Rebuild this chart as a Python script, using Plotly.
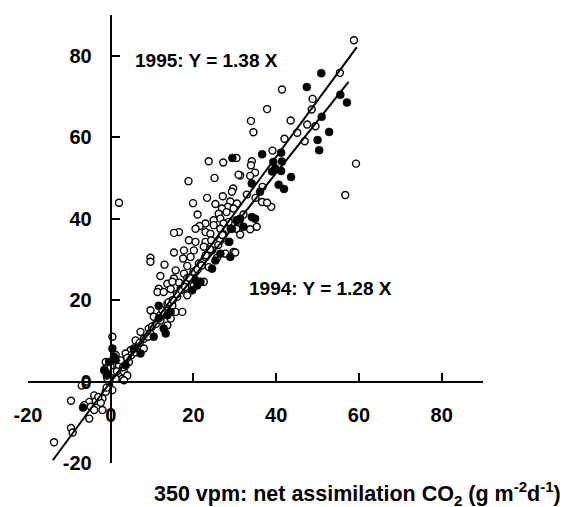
import plotly.graph_objects as go

# 1995 (open circles)
x95 = [58.8,55.4,41.4,48.8,37.8,48.6,33.9,43.5,34.5,47.5,49.5,45.1,42.0,46.9,39.1,59.3,34.1,33.9,34.9,33.7,
       31.3,36.7,56.7,32.9,23.7,27.2,30.4,25.1,30.9,18.8,29.6,29.3,23.3,27.1,19.9,25.3,28.9,30.5,35.0,36.6,
       38.8,37.8,28.3,26.9,21.0,26.1,28.0,29.7,32.1,26.5,24.9,22.9,21.5,20.5,24.9,28.5,27.3,35.3,33.7,30.4,
       31.3,27.3,22.9,16.5,15.3,24.1,26.5,18.9,20.5,22.9,24.3,26.5,28.7,22.5,15.3,17.7,20.1,24.5,27.7,29.7,
       9.6,9.6,13.0,17.5,19.3,22.9,25.7,18.5,21.3,15.7,23.7,12.0,17.7,20.5,15.3,18.5,13.7,16.5,11.6,14.5,
       16.9,20.1,22.5,14.9,18.1,11.3,12.8,16.1,18.5,9.6,13.7,14.9,15.7,17.3,10.4,12.0,14.5,13.7,9.2,9.6,
       7.2,6.0,6.8,8.0,4.8,3.6,4.4,0.4,-1.2,-1.2,0.0,0.8,2.0,2.8,3.2,1.2,-0.8,2.0,2.4,1.2,
       4.0,3.2,-1.0,-7.0,-5.8,-0.4,0.4,-1.2,-4.0,-2.0,-5.2,-9.6,-3.6,-6.4,-4.8,-4.0,-5.2,-9.6,-9.2,-13.7,
       -2.0,-2.4,2.0,30.1,
       5.0,6.0,7.0,8.0,9.0,10.0,11.0,12.0,12.5,13.0,14.0,15.0,16.0,17.0,18.0,19.0,20.0,21.0,22.0,23.0,
       24.0,26.0,27.0,29.0,31.0,3.0,4.0,1.5,-1.0,-3.0]
y95 = [83.8,75.8,71.7,69.4,66.9,66.8,64.0,64.1,61.2,63.1,62.7,61.1,59.6,59.0,56.7,53.5,54.1,53.1,51.3,50.5,
       50.6,47.8,45.8,45.9,54.1,53.8,54.9,50.0,50.8,49.2,47.4,46.6,45.1,45.5,43.8,43.6,44.2,43.7,45.1,44.1,
       42.9,43.9,42.9,42.5,41.0,41.2,41.6,42.5,41.0,40.0,39.6,38.8,38.2,37.5,38.4,39.2,38.8,38.0,37.4,37.5,
       36.1,36.1,36.7,36.7,36.5,36.3,37.5,34.7,34.3,34.3,34.7,34.7,34.3,33.1,31.7,32.2,32.2,32.2,31.4,31.8,
       30.4,29.4,28.7,30.2,30.6,30.6,30.4,28.4,29.0,27.3,28.1,25.9,26.5,26.9,25.3,25.4,24.0,24.3,22.8,22.7,
       22.8,23.6,24.5,24.5,24.0,22.0,22.0,20.8,21.2,17.5,19.1,18.7,17.1,17.1,15.9,16.3,15.5,13.8,13.0,11.8,
       12.2,10.1,8.9,8.1,7.7,6.9,4.8,11.0,4.8,3.2,3.6,2.4,1.5,0.7,2.4,0.7,0.7,4.0,5.2,6.5,
       1.5,0.3,1.5,-1.0,0.0,-0.9,-2.1,-2.5,-3.4,-4.2,-5.0,-4.7,-4.8,-5.8,-6.2,-7.0,-9.1,-11.4,-12.5,-14.9,
       -7.0,-5.2,43.9,31.7,
       6.5,7.2,9.5,10.5,11.0,13.5,14.2,15.0,17.5,16.5,19.5,20.0,21.5,22.5,23.2,25.5,27.0,27.5,28.5,31.0,
       32.5,33.5,36.0,37.5,39.5,3.5,5.8,2.5,-1.5,-3.8]

# 1994 (filled circles)
x94 = [50.9,47.4,55.5,57.1,51.0,52.8,50.0,50.4,36.6,41.2,39.3,41.4,39.0,41.2,43.6,34.1,40.6,41.9,36.1,29.4,
       39.8,31.3,34.1,34.9,32.1,29.3,30.4,28.5,26.5,28.9,24.5,21.7,20.5,11.6,14.5,13.3,7.2,5.6,0.4,0.8,
       -1.6,1.2,3.6,-6.7,-0.4,11.6,12.8,10.4,25.3,19.7,20.9,13.7,-0.8]
y94 = [75.7,72.3,70.4,68.5,65.0,61.3,59.3,56.8,55.8,56.2,53.9,54.0,51.6,51.7,50.2,48.6,48.3,47.3,46.6,54.9,
       52.3,40.0,40.4,40.0,38.0,37.5,39.6,34.3,31.4,30.6,27.7,24.5,24.9,15.5,17.1,11.8,6.9,8.1,8.1,6.1,
       2.8,5.2,4.0,-6.4,4.8,18.6,13.0,11.0,29.7,22.4,23.6,16.3,1.7]

# regression lines
slope95, line95_x = 1.38, [-14.0, 59.5]
slope94, line94_x = 1.28, [-1.0, 57.5]

tick_vals = [-20, 0, 20, 40, 60, 80]
tick_text = ["-20", "0", "20", "40", "60", "80"]

fig = go.Figure()
fig.add_trace(go.Scatter(x=x95, y=y95, mode="markers",
                         marker=dict(symbol="circle", size=7, color="white",
                                     line=dict(color="black", width=1.4)),
                         showlegend=False))
fig.add_trace(go.Scatter(x=x94, y=y94, mode="markers",
                         marker=dict(symbol="circle", size=8, color="black",
                                     line=dict(color="black", width=0.5)),
                         showlegend=False))
fig.add_trace(go.Scatter(x=line95_x, y=[slope95 * v for v in line95_x], mode="lines",
                         line=dict(color="black", width=2), showlegend=False))
fig.add_trace(go.Scatter(x=line94_x, y=[slope94 * v for v in line94_x], mode="lines",
                         line=dict(color="black", width=2), showlegend=False))

font_family = "Liberation Sans, Arial, sans-serif"
axis_common = dict(range=[-20, 90], showgrid=False, zeroline=False, showline=True,
                   linecolor="black", linewidth=2, ticks="inside", ticklen=8, tickwidth=2,
                   tickcolor="black", tickvals=tick_vals, ticktext=tick_text,
                   tickfont=dict(family=font_family, size=20, color="black", weight="bold"),
                   anchor="free", position=20 / 110, automargin=False)

fig.update_layout(
    width=562, height=499,
    margin=dict(l=20, r=87, t=7, b=44),
    paper_bgcolor="white", plot_bgcolor="white",
    xaxis=dict(**axis_common, ticklabelstandoff=15),
    yaxis=dict(**axis_common, ticklabelstandoff=14),
    annotations=[
        dict(x=5.5, y=78.8, xref="x", yref="y", text="1995: Y = 1.38 X", showarrow=False,
             xanchor="left", yanchor="middle",
             font=dict(family=font_family, size=19, color="black", weight="bold")),
        dict(x=33.0, y=22.8, xref="x", yref="y", text="1994: Y = 1.28 X", showarrow=False,
             xanchor="left", yanchor="middle",
             font=dict(family=font_family, size=19, color="black", weight="bold")),
        dict(x=0.724, y=-0.068, xref="paper", yref="paper",
             text="350 vpm: net assimilation CO<sub>2</sub> (g m<sup>-2</sup>d<sup>-1</sup>)",
             showarrow=False, xanchor="center", yanchor="middle",
             font=dict(family=font_family, size=21.5, color="black", weight="bold")),
    ],
)

fig.write_html("out.html")
